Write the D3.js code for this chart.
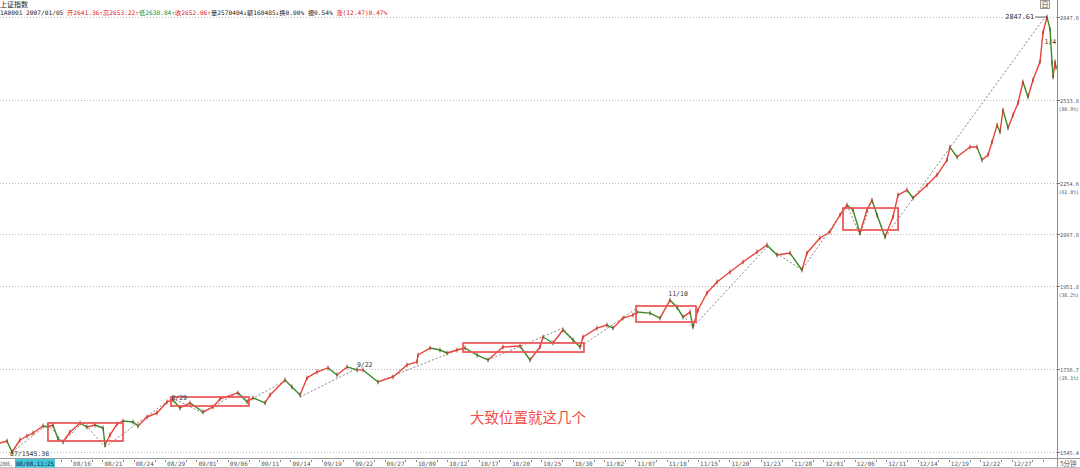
<!DOCTYPE html>
<html>
<head>
<meta charset="utf-8">
<script src="https://d3js.org/d3.v7.min.js"></script>
<style>
  body { margin: 0; background: #fff; }
  svg { display: block; }
  .mono { font-family: "DejaVu Sans Mono", "Noto Sans CJK SC", monospace; }
</style>
</head>
<body>
<svg id="chart" width="1080" height="468"></svg>
<script>

// price path: trading-day position (0 = 2006/08/08) and index level
const dayPos = [-0.95,-0.28,0.20,0.96,1.63,2.21,3.16,3.64,4.12,4.60,5.08,5.75,6.71,7.37,8.14,8.91,9.10,9.58,10.25,10.82,
  11.78,12.26,13.12,14.07,15.03,15.60,16.27,17.23,18.48,19.43,20.10,21.82,22.69,23.26,24.41,24.89,26.32,26.99,27.76,28.43,
  29.39,30.44,31.30,32.26,33.21,33.79,35.22,36.66,38.00,38.95,39.05,40.20,41.15,41.82,42.78,43.55,44.70,45.75,47.18,48.81,
  49.77,50.72,51.01,51.97,52.92,53.88,54.55,54.84,56.18,57.13,57.71,58.67,59.62,60.01,61.25,62.21,63.16,63.83,64.41,65.08,
  65.36,65.84,66.70,67.66,68.90,70.15,71.49,72.44,73.40,74.64,75.79,76.27,77.51,78.47,79.43,80.10,80.67,81.34,82.01,82.49,
  82.97,83.74,84.50,84.98,85.84,86.42,87.76,88.71,89.67,89.95,90.63,91.87,92.54,93.02,93.59,93.98,94.46,94.74,95.03,95.51,
  95.99,96.47,96.94,97.42,97.90,98.57,98.86,99.24,99.53,99.72,99.82,100.01,100.10];
const closes = [1565.1,1569.5,1545.4,1571.7,1580.5,1587.2,1602.9,1600.6,1605.1,1573.9,1567.3,1589.4,1609.7,1600.6,1605.1,1598.4,1560.7,1582.8,1607.4,1614.2,
  1611.9,1602.9,1623.3,1632.5,1658.0,1662.7,1644.1,1655.7,1634.8,1646.4,1665.0,1679.1,1658.0,1667.4,1655.7,1674.4,1710.1,1693.3,1674.4,1714.9,
  1729.4,1739.2,1722.1,1741.6,1734.3,1734.3,1705.3,1717.3,1746.5,1753.9,1771.0,1788.5,1783.5,1776.0,1783.5,1788.5,1771.0,1758.7,1791.1,1793.6,
  1758.7,1791.1,1816.4,1801.2,1834.3,1808.8,1791.1,1816.4,1839.4,1847.2,1839.4,1865.4,1873.3,1881.2,1878.5,1865.4,1913.2,1894.5,1868.0,1881.2,
  1842.0,1886.6,1932.2,1962.4,1990.1,2018.4,2046.9,2067.1,2038.3,2044.0,1995.7,2044.0,2087.5,2105.2,2156.0,2186.5,2171.2,2102.3,2171.2,2201.9,
  2156.0,2090.5,2150.0,2217.4,2233.0,2208.1,2248.7,2280.5,2329.2,2372.1,2339.0,2372.1,2372.1,2329.2,2345.6,2388.8,2446.4,2422.5,2498.7,2436.2,
  2481.2,2523.6,2599.3,2545.0,2606.6,2673.8,2786.4,2847.6,2798.4,2670.0,2617.6,2673.8,2652.1];

// fibonacci levels on the right axis
const levels = [2847.6, 2533.8, 2254.6, 2097.8, 1951.8, 1736.7, 1545.4];
const levelPct = ["", "(80.9%)", "(61.8%)", "", "(38.2%)", "(19.1%)", ""];

// x axis: a label every 3 trading days
const tickDays = [6,9,12,15,18,21,24,27,30,33,36,39,42,45,48,51,54,57,60,63,66,69,72,75,78,81,84,87,90,93,96];
const tickLabels = ["08/16","08/21","08/24","08/29","09/01","09/06","09/11","09/14","09/19","09/22","09/27","10/09",
  "10/12","10/17","10/20","10/25","10/30","11/02","11/07","11/10","11/15","11/20","11/23","11/28","12/01","12/06",
  "12/11","12/14","12/19","12/22","12/27"];

// red boxes: [day from, day to, upper level, lower level]
const boxes = [
  [3.64, 10.82, 1609.7, 1569.5],
  [15.41, 22.87, 1669.6, 1648.6],
  [43.36, 54.93, 1801.2, 1778.5],
  [59.91, 65.65, 1897.3, 1855.1],
  [79.72, 84.99, 2177.3, 2111.1]
];

// dashed wave lines: lists of [day, level]
const waves = [
  [[0.20,1545.4],[3.64,1607.4]],
  [[3.64,1607.4],[5.08,1567.3],[6.99,1611.9],[9.10,1556.3]],
  [[9.10,1556.3],[15.51,1667.4]],
  [[15.51,1667.4],[18.48,1632.5],[21.82,1681.3],[22.78,1660.2]],
  [[22.78,1660.2],[26.51,1710.1]],
  [[27.76,1669.6],[33.31,1739.2]],
  [[35.41,1707.5],[43.55,1791.1]],
  [[45.75,1758.7],[52.92,1839.4],[54.55,1791.1],[60.01,1891.9]],
  [[63.16,1913.2],[65.36,1842.0],[72.44,2061.3],[75.79,1995.7],[80.10,2186.5]],
  [[80.10,2186.5],[81.34,2096.3],[82.49,2201.9],[83.74,2090.5]],
  [[83.74,2090.5],[99.05,2847.6]]
];

// small date marks on the chart: [day, level, text]
const marks = [
  [15.45, 1662.0, "8/29"],
  [33.2, 1741.0, "9/22"],
  [63.0, 1925.0, "11/10"],
  [99.0, 2740.0, "1/4"]
];

var svg = d3.select("#chart");
var W = 1080, H = 468, axisX = 1057, axisY = 458;

var x = d3.scaleLinear().domain([-0.95, 100.1]).range([0, 1056]);
var y = d3.scaleLog().domain([1545.4, 2847.6]).range([452, 17]);

svg.append("rect").attr("width", W).attr("height", H).attr("fill", "#fff");

// level grid lines
svg.append("g").selectAll("line")
  .data(levels).enter().append("line")
  .attr("x1", 0).attr("x2", axisX)
  .attr("y1", d => Math.round(y(d)) + 0.5).attr("y2", d => Math.round(y(d)) + 0.5)
  .attr("stroke", "#b8b8b8").attr("stroke-dasharray", "1,2");

// right axis
svg.append("line").attr("x1", axisX + 0.5).attr("x2", axisX + 0.5).attr("y1", 0).attr("y2", H)
  .attr("stroke", "#8c8c8c");
var ra = svg.append("g").attr("class", "mono").attr("font-size", "5.5px").attr("fill", "#555");
levels.forEach(function(v, i) {
  var yy = Math.round(y(v)) + 0.5;
  ra.append("line").attr("x1", axisX).attr("x2", axisX + 3).attr("y1", yy).attr("y2", yy).attr("stroke", "#777");
  ra.append("text").attr("x", axisX + 3).attr("y", yy + 2)
    .attr("textLength", 19).attr("lengthAdjust", "spacingAndGlyphs").text(v.toFixed(1));
  if (levelPct[i]) ra.append("text").attr("x", axisX + 1.5).attr("y", yy + 10.5).attr("font-size", "5px")
    .attr("textLength", 20.5).attr("lengthAdjust", "spacingAndGlyphs").text(levelPct[i]);
});
// "日" button
svg.append("rect").attr("x", 1040.5).attr("y", 0.5).attr("width", 9).attr("height", 8)
  .attr("fill", "#f4f4f4").attr("stroke", "#999");
svg.append("text").attr("x", 1045).attr("y", 7).attr("text-anchor", "middle")
  .attr("font-family", "Noto Sans CJK SC").attr("font-size", "7px").attr("fill", "#555").text("日");

// bottom axis
svg.append("line").attr("x1", 0).attr("x2", W).attr("y1", axisY + 0.5).attr("y2", axisY + 0.5).attr("stroke", "#9a9a9a");
svg.append("line").attr("x1", 0).attr("x2", W).attr("y1", H - 0.5).attr("y2", H - 0.5).attr("stroke", "#bbb");
var ba = svg.append("g").attr("class", "mono").attr("font-size", "6px").attr("fill", "#555");
ba.selectAll("text.tl").data(tickDays).enter().append("text")
  .attr("x", d => x(d) + 0.4).attr("y", axisY + 7.5)
  .text((d, i) => tickLabels[i]);
// small day ticks between labels
var smallTicks = [];
for (var k = 1; k <= 100; k++) if (k % 3 !== 1) smallTicks.push(k);
ba.selectAll("line.st").data(smallTicks).enter().append("line")
  .attr("x1", d => Math.round(x(d) - 1.6) + 0.5).attr("x2", d => Math.round(x(d) - 1.6) + 0.5)
  .attr("y1", axisY + 2).attr("y2", axisY + 4).attr("stroke", "#888");
ba.append("text").attr("x", 0).attr("y", axisY + 7.5)
  .attr("textLength", 12.5).attr("lengthAdjust", "spacingAndGlyphs").text("2006,");
svg.append("rect").attr("x", 15).attr("y", axisY + 1).attr("width", 40).attr("height", 8.5).attr("fill", "#45c8d6");
svg.append("text").attr("class", "mono").attr("x", 16).attr("y", axisY + 7.5).attr("font-size", "6px")
  .attr("textLength", 38).attr("lengthAdjust", "spacingAndGlyphs")
  .attr("fill", "#102060").text("08/08,11:25");
svg.append("text").attr("x", axisX + 3).attr("y", axisY + 8)
  .attr("font-family", "Noto Sans CJK SC").attr("font-size", "6.5px").attr("fill", "#555").text("5分钟");

// dashed wave lines
var line = d3.line().x(d => x(d[0])).y(d => y(d[1]));
svg.append("g").selectAll("path")
  .data(waves).enter().append("path")
  .attr("d", line).attr("fill", "none")
  .attr("stroke", "#666").attr("stroke-width", 0.8).attr("stroke-dasharray", "2,2");

// price path, coloured by direction like 5-minute candles
var pts = dayPos.map((d, i) => [d, closes[i]]);
var segs = d3.pairs(pts);
var pg = svg.append("g");
pg.selectAll("line.seg").data(segs).enter().append("line")
  .attr("x1", d => x(d[0][0])).attr("y1", d => y(d[0][1]))
  .attr("x2", d => x(d[1][0])).attr("y2", d => y(d[1][1]))
  .attr("stroke", d => d[1][1] >= d[0][1] ? "#e8443a" : "#3d8a2c")
  .attr("stroke-width", 1.4).attr("stroke-linecap", "round");
pg.selectAll("line.wick").data(segs).enter().append("line")
  .attr("x1", d => x(d[1][0])).attr("x2", d => x(d[1][0]))
  .attr("y1", d => y(d[1][1]) - 2.4).attr("y2", d => y(d[1][1]) + 2.4)
  .attr("stroke", d => d[1][1] >= d[0][1] ? "#b8322a" : "#3f5f1a").attr("stroke-width", 0.9);

// red boxes
svg.append("g").selectAll("rect")
  .data(boxes).enter().append("rect")
  .attr("x", d => x(d[0])).attr("y", d => y(d[2]))
  .attr("width", d => x(d[1]) - x(d[0])).attr("height", d => y(d[3]) - y(d[2]))
  .attr("fill", "none").attr("stroke", "#ea5353").attr("stroke-width", 1.7);

// date marks
svg.append("g").attr("class", "mono").attr("font-size", "6.5px").attr("fill", "#333")
  .selectAll("text").data(marks).enter().append("text")
  .attr("x", d => x(d[0])).attr("y", d => y(d[1]))
  .text(d => d[2]);

// low and high labels
var lowI = closes.indexOf(d3.min(closes)), highI = closes.indexOf(d3.max(closes));
svg.append("text").attr("class", "mono").attr("font-size", "6.5px").attr("fill", "#333")
  .attr("x", x(dayPos[lowI]) - 2).attr("y", y(closes[lowI]) + 4).text("07/1545.36");
svg.append("text").attr("class", "mono").attr("font-size", "6.8px").attr("fill", "#333")
  .attr("text-anchor", "end").attr("x", x(dayPos[highI]) - 13).attr("y", y(closes[highI]) + 2).text("2847.61");
svg.append("line").attr("x1", x(dayPos[highI]) - 12).attr("x2", x(dayPos[highI]))
  .attr("y1", y(closes[highI])).attr("y2", y(closes[highI])).attr("stroke", "#444").attr("stroke-width", 0.8);

// header
svg.append("text").attr("x", 0).attr("y", 7).attr("font-family", "Noto Sans CJK SC")
  .attr("font-size", "7px").attr("fill", "#222").text("上证指数");
const headerParts = [
  ["1A0001 2007/01/05 ", "#222"], ["开2641.36↑", "#e02020"], ["高2653.22↑", "#e02020"],
  ["低2638.84↑", "#1a8a1a"], ["收2652.06↑", "#e02020"], ["量2570404↓", "#222"], ["额160485↓", "#222"],
  ["换0.00% ", "#222"], ["振0.54% ", "#222"], ["涨(12.47)0.47%", "#e02020"]
];
var hd = svg.append("text").attr("class", "mono").attr("x", 0).attr("y", 15).attr("font-size", "6.2px");
headerParts.forEach(p => hd.append("tspan").attr("fill", p[1]).text(p[0]));

// note
svg.append("text").attr("x", 470).attr("y", 423).attr("font-family", "Noto Sans CJK SC")
  .attr("font-size", "14.5px").attr("fill", "#f05048").text("大致位置就这几个");

</script>
</body>
</html>
